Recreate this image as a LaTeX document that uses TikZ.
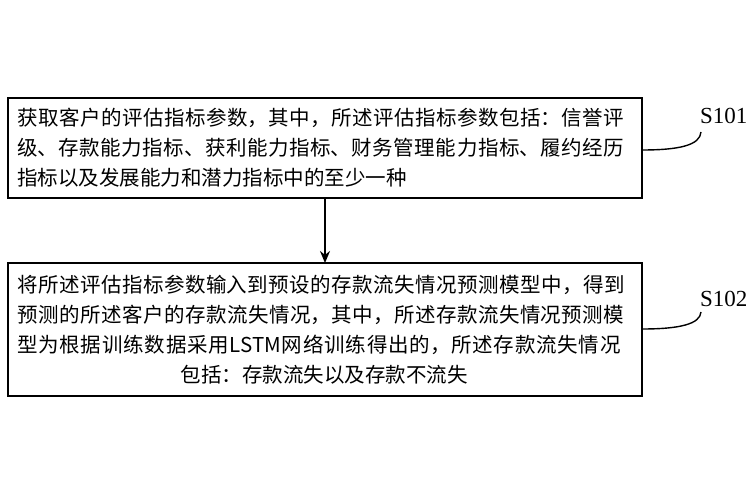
\documentclass[tikz,border=0pt]{standalone}
\usepackage{fontspec}
\usetikzlibrary{arrows.meta}
\newfontfamily\cjk{Noto Sans CJK SC}
\setmainfont{Liberation Serif}
\XeTeXlinebreaklocale "zh"
\XeTeXlinebreakskip=0pt plus 3pt
\newcommand{\jl}[1]{{\parfillskip=0pt\relax #1\par}}
\begin{document}
\begin{tikzpicture}[x=1pt,y=-1pt,
  txt/.style={text width=614pt,font=\cjk\fontsize{20.5}{30}\selectfont,anchor=north west,inner sep=0pt},
  lbl/.style={font=\fontsize{23}{26}\selectfont,anchor=base west,inner sep=0pt},
  lead/.style={line width=1.4pt}]
\useasboundingbox (0,0) rectangle (750,500);
\draw[line width=1.6pt] (8,98) rectangle (642,198);
\node[coordinate] (b1) at (325,198) {};
\node[coordinate] (b1r) at (642,150) {};
\node[txt] (t1) at (17,108) {\jl{获取客户的评估指标参数，其中，所述评估指标参数包括：信誉评}\jl{级、存款能力指标、获利能力指标、财务管理能力指标、履约经历}指标以及发展能力和潜力指标中的至少一种};
\draw[line width=1.6pt] (8,263) rectangle (642,396);
\node[coordinate] (b2) at (325,263) {};
\node[coordinate] (b2r) at (642,329) {};
\node[txt] (t2) at (17,275) {\jl{将所述评估指标参数输入到预设的存款流失情况预测模型中，得到}\jl{预测的所述客户的存款流失情况，其中，所述存款流失情况预测模}\jl{型为根据训练数据采用LSTM网络训练得出的，所述存款流失情况}{\centering 包括：存款流失以及存款不流失\par}};
\draw[line width=1.6pt,-{Stealth[length=12pt,width=10pt]}] (b1) -- (b2);
\node[lbl] (s1) at (700,124) {S101};
\node[lbl] (s2) at (700,306) {S102};
\draw[lead] (b1r) .. controls (680,150) and (700,145) .. (701,132);
\draw[lead] (b2r) .. controls (680,329) and (700,324) .. (701,312);
\end{tikzpicture}
\end{document}
